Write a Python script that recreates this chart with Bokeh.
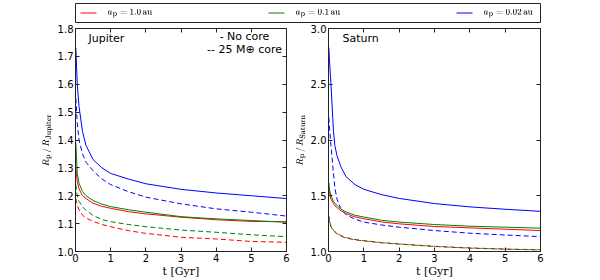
from bokeh.plotting import figure
from bokeh.layouts import column, row
from bokeh.models import (Label, LinearAxis, FixedTicker, Range1d,
                          CustomJSTickFormatter, TeX)
from bokeh.embed import file_html
from bokeh.resources import INLINE

# ---------------- data ----------------
t_jup = [0.01, 0.05, 0.1, 0.2, 0.3, 0.5, 0.75, 1.0, 1.5, 2.0, 3.0, 4.0, 5.0, 6.0]
jup_002_nocore = [1.73, 1.60, 1.52, 1.43, 1.38, 1.33, 1.30, 1.28, 1.26, 1.243, 1.223, 1.21, 1.20, 1.19]
jup_002_core = [1.55, 1.46, 1.40, 1.35, 1.32, 1.29, 1.26, 1.24, 1.215, 1.195, 1.171, 1.153, 1.141, 1.127]
jup_01_nocore = [1.39, 1.28, 1.245, 1.215, 1.20, 1.183, 1.17, 1.161, 1.15, 1.141, 1.125, 1.117, 1.111, 1.105]
jup_1_nocore = [1.30, 1.25, 1.225, 1.20, 1.19, 1.173, 1.162, 1.155, 1.143, 1.135, 1.123, 1.114, 1.108, 1.107]
jup_01_core = [1.24, 1.20, 1.18, 1.16, 1.148, 1.129, 1.115, 1.107, 1.097, 1.089, 1.077, 1.069, 1.06, 1.053]
jup_1_core = [1.19, 1.165, 1.15, 1.13, 1.12, 1.108, 1.097, 1.089, 1.075, 1.065, 1.051, 1.045, 1.036, 1.033]

t_sat = [0.01, 0.03, 0.07, 0.14, 0.18, 0.24, 0.35, 0.5, 0.75, 1.0, 1.5, 2.0, 3.0, 4.0, 5.0, 6.0]
sat_002_nocore = [2.83, 2.70, 2.50, 2.08, 1.95, 1.86, 1.76, 1.67, 1.60, 1.558, 1.51, 1.476, 1.43, 1.40, 1.379, 1.36]
sat_002_core = [2.20, 2.10, 1.95, 1.70, 1.57, 1.47, 1.38, 1.33, 1.29, 1.264, 1.238, 1.218, 1.188, 1.164, 1.148, 1.133]
sat_01_nocore = [1.62, 1.55, 1.50, 1.45, 1.43, 1.415, 1.38, 1.355, 1.325, 1.309, 1.28, 1.264, 1.242, 1.227, 1.218, 1.209]
sat_1_nocore = [1.58, 1.52, 1.47, 1.43, 1.41, 1.394, 1.365, 1.34, 1.31, 1.294, 1.265, 1.248, 1.224, 1.212, 1.20, 1.188]
sat_01_core = [1.32, 1.27, 1.23, 1.19, 1.178, 1.165, 1.143, 1.125, 1.108, 1.098, 1.08, 1.068, 1.047, 1.032, 1.022, 1.016]
sat_1_core = [1.31, 1.26, 1.22, 1.185, 1.172, 1.16, 1.138, 1.12, 1.104, 1.095, 1.078, 1.066, 1.045, 1.03, 1.021, 1.014]

x_ticks = [0, 1, 2, 3, 4, 5, 6]
jup_yticks = [1.0, 1.1, 1.2, 1.3, 1.4, 1.5, 1.6, 1.7, 1.8]
sat_yticks = [1.0, 1.5, 2.0, 2.5, 3.0]

legend_labels = [r"a_\mathrm{p} = 1.0\,\mathrm{au}",
                 r"a_\mathrm{p} = 0.1\,\mathrm{au}",
                 r"a_\mathrm{p} = 0.02\,\mathrm{au}"]
colors = ["#ff0000", "#008000", "#0000ff"]
DASH = "5 3"
TICK_FONT = "DejaVu Sans"
FRAME = "#222222"

# layout constants (pixels)
FRAME_H = 224
LEG_W, LEG_H = 465, 19          # legend box (frame of the legend strip)
LEG_ITEM_STEP = 188             # distance between legend entries
LEG_HANDLE = (5, 21)            # handle start / end inside an entry
LEG_TEXT_X = 32


def style_panel(p, yticks, ylabel):
    p.xaxis.ticker = FixedTicker(ticks=x_ticks)
    p.yaxis.ticker = FixedTicker(ticks=yticks)
    p.yaxis.formatter = CustomJSTickFormatter(code="return tick.toFixed(1);")
    p.xaxis.formatter = CustomJSTickFormatter(code="return tick.toFixed(0);")
    for ax in (p.xaxis[0], p.yaxis[0]):
        ax.major_tick_in = 4
        ax.major_tick_out = 0
        ax.minor_tick_line_color = None
        ax.axis_line_color = FRAME
        ax.major_tick_line_color = FRAME
        ax.major_label_text_font = TICK_FONT
        ax.major_label_text_font_size = "10px"
        ax.major_label_text_color = "black"
        ax.major_label_standoff = 2
        ax.axis_label_text_font_style = "normal"
        ax.axis_label_text_color = "black"
    p.xaxis.axis_label = "t [Gyr]"
    p.xaxis.axis_label_text_font = "DejaVu Serif"
    p.xaxis.axis_label_text_font_size = "11px"
    p.xaxis.axis_label_standoff = 0
    p.yaxis.axis_label = ylabel
    p.yaxis.axis_label_text_font_size = "8px"
    p.yaxis.axis_label_standoff = 2
    # mirrored inward ticks on top and right
    for loc, ticks in (("above", x_ticks), ("right", yticks)):
        ax = LinearAxis(ticker=FixedTicker(ticks=ticks),
                        formatter=CustomJSTickFormatter(code="return '';"),
                        major_tick_in=4, major_tick_out=0,
                        minor_tick_line_color=None,
                        major_label_text_font_size="0px",
                        major_label_standoff=0,
                        axis_line_color=FRAME,
                        major_tick_line_color=FRAME)
        p.add_layout(ax, loc)
    p.grid.visible = False
    p.outline_line_color = FRAME
    p.background_fill_color = "white"
    p.border_fill_color = "white"


def make_panel(width, left, right, ymax):
    return figure(width=width, height=256, x_range=Range1d(0, 6),
                  y_range=Range1d(1.0, ymax), toolbar_location=None,
                  output_backend="svg", min_border_left=left,
                  min_border_right=right, min_border_top=4,
                  min_border_bottom=256 - 4 - FRAME_H)


def note(p, x, y, text, align="left"):
    p.add_layout(Label(x=x, y=y, x_units="screen", y_units="screen", text=text,
                       text_font=TICK_FONT, text_font_size="11px", text_baseline="middle",
                       text_align=align, text_color="black"))


# ---------------- Jupiter panel ----------------
p1 = make_panel(290, 75, 4, 1.8)
style_panel(p1, jup_yticks, r"$$R_\mathrm{p}\,/\,R_\mathrm{Jupiter}$$")
p1.line(t_jup, jup_1_core, color=colors[0], line_width=1, line_dash=DASH)
p1.line(t_jup, jup_01_core, color=colors[1], line_width=1, line_dash=DASH)
p1.line(t_jup, jup_002_core, color=colors[2], line_width=1, line_dash=DASH)
p1.line(t_jup, jup_1_nocore, color=colors[0], line_width=1)
p1.line(t_jup, jup_01_nocore, color=colors[1], line_width=1)
p1.line(t_jup, jup_002_nocore, color=colors[2], line_width=1)
note(p1, 13, 213, "Jupiter")
note(p1, 169, 215, "- No core", "center")
note(p1, 169, 202, "-- 25 M\u2295 core", "center")

# ---------------- Saturn panel ----------------
p2 = make_panel(262, 38, 12, 3.0)
style_panel(p2, sat_yticks, r"$$R_\mathrm{p}\,/\,R_\mathrm{Saturn}$$")
p2.line(t_sat, sat_1_core, color=colors[0], line_width=1, line_dash=DASH)
p2.line(t_sat, sat_01_core, color=colors[1], line_width=1, line_dash=DASH, line_dash_offset=2)
p2.line(t_sat, sat_002_core, color=colors[2], line_width=1, line_dash=DASH)
p2.line(t_sat, sat_1_nocore, color=colors[0], line_width=1)
p2.line(t_sat, sat_01_nocore, color=colors[1], line_width=1)
p2.line(t_sat, sat_002_nocore, color=colors[2], line_width=1)
note(p2, 14, 213, "Saturn")

# ---------------- legend strip ----------------
leg = figure(width=552, height=24, x_range=Range1d(0, LEG_W), y_range=Range1d(0, LEG_H),
             toolbar_location=None, output_backend="svg", x_axis_location=None,
             y_axis_location=None, min_border_left=75, min_border_right=12,
             min_border_top=3, min_border_bottom=2)
leg.grid.visible = False
leg.outline_line_color = FRAME
for i, (c, lab) in enumerate(zip(colors, legend_labels)):
    off = LEG_ITEM_STEP * i
    leg.segment(x0=LEG_HANDLE[0] + off, y0=LEG_H / 2, x1=LEG_HANDLE[1] + off, y1=LEG_H / 2,
                color=c, line_width=1)
    leg.add_layout(Label(x=LEG_TEXT_X + off, y=LEG_H / 2, x_units="screen", y_units="screen",
                         text=TeX(text=lab), text_font_size="8px",
                         text_baseline="middle", text_color="black"))

root = column(leg, row(p1, p2))
open("out.html", "w").write(file_html(root, INLINE))
